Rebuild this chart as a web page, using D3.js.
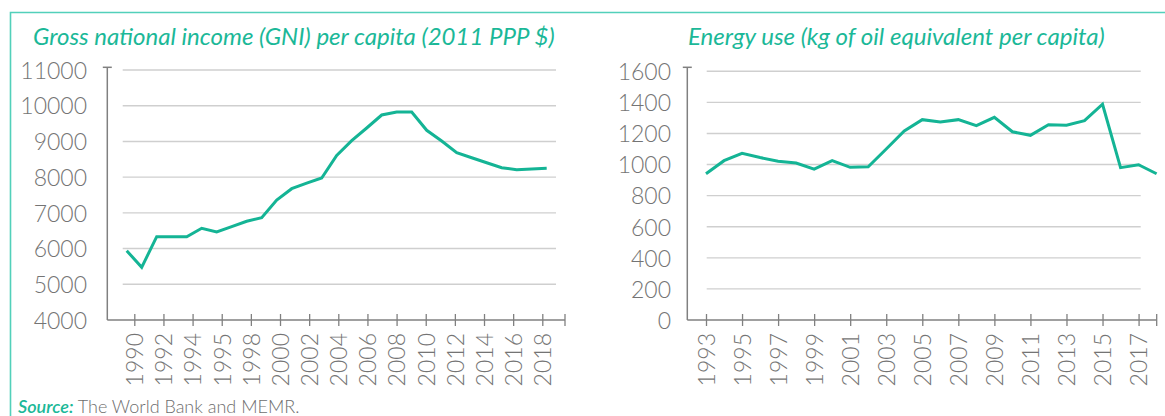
<!DOCTYPE html>
<html>
<head>
<meta charset="utf-8">
<script src="https://cdn.jsdelivr.net/npm/d3@7"></script>
<style>
  html, body { margin: 0; padding: 0; background: #fff; }
  svg { display: block; }
  text { font-family: Lato, "Open Sans", sans-serif; }
</style>
</head>
<body>
<svg id="chart" width="1165" height="416"></svg>
<script>
// ---------------- DATA ----------------
const gniTitle = "Gross national income (GNI) per capita (2011 PPP $)";
const gniYears = [1990,1991,1992,1993,1994,1995,1996,1997,1998,1999,2000,2001,2002,2003,2004,2005,2006,2007,2008,2009,2010,2011,2012,2013,2014,2015,2016,2017,2018];
const gniValues = [5940,5476,6332,6332,6332,6568,6464,6614,6764,6865,7360,7677,7830,7976,8606,9020,9376,9740,9824,9824,9312,9012,8684,8544,8404,8264,8208,8230,8248];
const gniTickLabels = ["1990","1992","1994","1995","1998","2000","2002","2004","2006","2008","2010","2012","2014","2016","2018"];
const gniYTicks = [4000,5000,6000,7000,8000,9000,10000,11000];

const energyTitle = "Energy use (kg of oil equivalent per capita)";
const energyYears = [1993,1994,1995,1996,1997,1998,1999,2000,2001,2002,2003,2004,2005,2006,2007,2008,2009,2010,2011,2012,2013,2014,2015,2016,2017,2018];
const energyValues = [941,1025,1072,1045,1022,1010,970,1025,982,986,1100,1216,1289,1274,1289,1250,1304,1211,1188,1256,1253,1282,1388,980,999,941];
const energyTickLabels = [1993,1995,1997,1999,2001,2003,2005,2007,2009,2011,2013,2015,2017];
const energyYTicks = [0,200,400,600,800,1000,1200,1400,1600];

const sourceLabel = "Source:";
const sourceText = " The World Bank and MEMR.";

// ---------------- STYLE ----------------
const TEAL = "#14b495";
const TITLE_TEAL = "#1bb898";
const BORDER = "#52d0ba";
const GRID = "#cfcfcf";
const AXIS = "#808080";
const LABEL = "#747474";

const svg = d3.select("#chart");

// frame border
svg.append("path")
  .attr("d", "M10.5,416 V12.5 H1165")
  .attr("fill", "none").attr("stroke", BORDER).attr("stroke-width", 1.6);

function fitTitle(sel, targetWidth) {
  let fs = 23;
  sel.attr("font-size", fs);
  const w = sel.node().getComputedTextLength();
  if (w > 0) sel.attr("font-size", fs * targetWidth / w);
}

function drawChart(cfg) {
  const g = svg.append("g");
  const t = g.append("text")
    .attr("x", cfg.titleX).attr("y", 45)
    .attr("fill", TITLE_TEAL)
    .attr("font-style", "italic")
    .attr("font-weight", 400)
    .text(cfg.title);
  fitTitle(t, cfg.titleW);

  const y = d3.scaleLinear().domain(cfg.yDomain).range([320, cfg.yTop]);

  g.append("g").selectAll("line")
    .data(cfg.yTicks.filter(v => v !== cfg.yDomain[0]))
    .join("line")
    .attr("x1", cfg.gridX0).attr("x2", cfg.gridX1)
    .attr("y1", d => y(d)).attr("y2", d => y(d))
    .attr("stroke", GRID).attr("stroke-width", 1.4);

  const yAxis = d3.axisLeft(y).tickValues(cfg.yTicks).tickSize(0).tickPadding(0)
    .tickFormat(d3.format("d"));
  const ya = g.append("g").attr("transform", `translate(${cfg.yLabelX},0)`).call(yAxis);
  ya.select(".domain").remove();
  ya.selectAll("text")
    .attr("font-family", "Lato, sans-serif")
    .attr("font-weight", 300)
    .attr("font-size", 23)
    .attr("fill", LABEL)
    .attr("dy", "0.36em");

  g.append("line").attr("x1", cfg.axisX).attr("x2", cfg.axisX)
    .attr("y1", 67.3).attr("y2", 320)
    .attr("stroke", AXIS).attr("stroke-width", 1.5);
  g.append("line").attr("x1", cfg.axisX - 4.5).attr("x2", cfg.axisX + 4.5)
    .attr("y1", 67.3).attr("y2", 67.3)
    .attr("stroke", AXIS).attr("stroke-width", 1.5);

  g.append("line").attr("x1", cfg.axisX).attr("x2", cfg.axisEnd)
    .attr("y1", 320).attr("y2", 320)
    .attr("stroke", AXIS).attr("stroke-width", 1.5);
  g.append("line").attr("x1", cfg.axisEnd).attr("x2", cfg.axisEnd)
    .attr("y1", 314).attr("y2", 326)
    .attr("stroke", AXIS).attr("stroke-width", 1.3);

  const xa = g.append("g").attr("transform", "translate(0,320)")
    .call(d3.axisBottom(cfg.xTickScale).tickValues(cfg.tickLabels)
      .tickFormat(d => String(d)).tickSize(6).tickPadding(13));
  xa.select(".domain").remove();
  xa.selectAll(".tick line").attr("y1", -6).attr("y2", 6)
    .attr("stroke", AXIS).attr("stroke-width", 1.3);
  xa.selectAll(".tick text")
    .attr("font-family", "Lato, sans-serif")
    .attr("font-weight", 300)
    .attr("font-size", 23)
    .attr("fill", LABEL)
    .attr("text-anchor", "end")
    .attr("transform", "rotate(-90)")
    .attr("x", -13).attr("y", 0).attr("dy", "0.36em");

  const x = cfg.xData;
  g.append("path")
    .datum(cfg.years.map((yr, i) => [yr, cfg.values[i]]))
    .attr("fill", "none")
    .attr("stroke", TEAL)
    .attr("stroke-width", 3)
    .attr("stroke-linejoin", "miter")
    .attr("d", d3.line().x(d => x(d[0])).y(d => y(d[1])));
}

drawChart({
  title: gniTitle, titleX: 33, titleW: 522,
  yDomain: [4000, 11000], yTop: 70, yTicks: gniYTicks,
  gridX0: 122.7, gridX1: 556, yLabelX: 87,
  axisX: 107.3, axisEnd: 565,
  xTickScale: d3.scalePoint().domain(gniTickLabels).range([134.3, 542.3]),
  tickLabels: gniTickLabels,
  xData: d3.scaleLinear().domain([gniYears[0], gniYears[gniYears.length - 1]]).range([126.7, 546.7]),
  years: gniYears, values: gniValues
});

const energyX = d3.scaleLinear().domain([energyYears[0], energyYears[energyYears.length - 1]]).range([706, 1156.6]);
drawChart({
  title: energyTitle, titleX: 688, titleW: 417,
  yDomain: [0, 1600], yTop: 71.3, yTicks: energyYTicks,
  gridX0: 706.7, gridX1: 1140.7, yLabelX: 671,
  axisX: 687.3, axisEnd: 1156.7,
  xTickScale: energyX,
  tickLabels: energyTickLabels,
  xData: energyX,
  years: energyYears, values: energyValues
});

const src = svg.append("text").attr("x", 18).attr("y", 413).attr("font-size", 18);
src.append("tspan").attr("fill", TITLE_TEAL).attr("font-style", "italic").attr("font-weight", 600).text(sourceLabel);
src.append("tspan").attr("fill", "#6e6e6e").attr("font-weight", 300).text(sourceText);
</script>
</body>
</html>
